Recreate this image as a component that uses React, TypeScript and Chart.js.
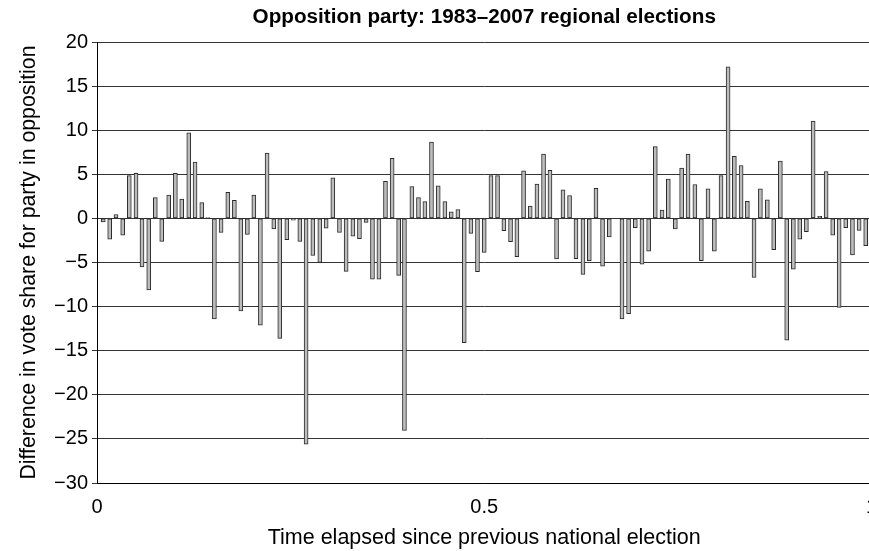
import { useEffect, useRef } from "react";
import { Chart, registerables } from "chart.js";

Chart.register(...registerables);

// Share of the interval between two national elections that had passed
// when each regional election was held.
const elapsed = [
  0.0081, 0.0164, 0.0245, 0.0332, 0.0417, 0.0504, 0.0581, 0.0668, 0.0753, 0.0836,
  0.0926, 0.1012, 0.1094, 0.1185, 0.1266, 0.1353, 0.143, 0.1516, 0.1602, 0.1689,
  0.1774, 0.1857, 0.1942, 0.2025, 0.211, 0.2196, 0.2283, 0.236, 0.2451, 0.2536,
  0.2619, 0.27, 0.2787, 0.2877, 0.2959, 0.3045, 0.3131, 0.3217, 0.3304, 0.3389,
  0.3475, 0.3557, 0.364, 0.3725, 0.3811, 0.3895, 0.397, 0.4066, 0.4151, 0.4234,
  0.4319, 0.4406, 0.4492, 0.4574, 0.466, 0.4742, 0.4828, 0.4913, 0.5, 0.5087,
  0.5172, 0.5254, 0.534, 0.5422, 0.5508, 0.5594, 0.5681, 0.5766, 0.5849, 0.5934,
  0.6017, 0.6102, 0.6185, 0.6275, 0.6357, 0.6443, 0.6528, 0.6615, 0.6779, 0.6864,
  0.6951, 0.7037, 0.7123, 0.7209, 0.7296, 0.7377, 0.7468, 0.7549, 0.7632, 0.772,
  0.7804, 0.789, 0.7972, 0.8058, 0.8149, 0.823, 0.8317, 0.8398, 0.8484, 0.8566,
  0.8656, 0.8738, 0.8824, 0.8906, 0.8992, 0.9074, 0.916, 0.9247, 0.9332, 0.9415,
  0.95, 0.9583, 0.9668, 0.9755, 0.9841, 0.9926,
];

// Change in the opposition party's vote share, in percentage points.
const voteDiff = [
  -0.4, -2.35, 0.45, -1.9, 4.85, 5.1, -5.5, -8.1, 2.35, -2.6,
  2.65, 5.1, 2.2, 9.7, 6.4, 1.8, 0.1, -11.4, -1.6, 2.95,
  2.05, -10.5, -1.8, 2.65, -12.1, 7.4, -1.2, -13.6, -2.4, -0.2,
  -2.6, -25.6, -4.2, -5.0, -1.1, 4.6, -1.6, -6.0, -2.0, -2.3,
  -0.45, -6.9, -6.9, 4.2, 6.8, -6.45, -24.05, 3.6, 2.35, 1.9,
  8.65, 3.7, 1.9, 0.75, 1.0, -14.1, -1.7, -6.05, -3.85, 4.85,
  4.85, -1.4, -2.65, -4.35, 5.4, 1.4, 3.9, 7.3, 5.45, -4.6,
  3.25, 2.6, -4.55, -6.35, -4.8, 3.4, -5.4, -2.1, -11.4, -10.8,
  -1.05, -5.2, -3.7, 8.15, 0.95, 4.45, -1.2, 5.7, 7.3, 3.85,
  -4.8, 3.35, -3.7, 4.85, 17.2, 7.05, 6.0, 1.95, -6.7, 3.35,
  2.1, -3.55, 6.5, -13.8, -5.75, -2.35, -1.5, 11.05, 0.25, 5.3,
  -1.9, -10.1, -1.05, -4.15, -1.35, -3.1,
];

const yMin = -30;
const yMax = 20;
const yStep = 5;
const xMin = 0;
const xMax = 1;
const xStep = 0.5;

const FONT = "'Liberation Sans', Arial, Helvetica, sans-serif";

export default function App() {
  const canvasRef = useRef<HTMLCanvasElement | null>(null);

  useEffect(() => {
    const canvas = canvasRef.current;
    if (!canvas) return;

    const points = elapsed.map((x, i) => ({ x, y: voteDiff[i] }));

    const chart = new Chart(canvas, {
      type: "bar",
      data: {
        datasets: [
          {
            data: points,
            backgroundColor: "#bcbcbc",
            borderColor: "#2a2a2a",
            borderWidth: 1,
            borderSkipped: false,
            barThickness: 4,
          },
        ],
      },
      options: {
        responsive: false,
        animation: false,
        devicePixelRatio: 1,
        layout: { padding: { left: 0, right: 0, top: 0, bottom: 0 } },
        plugins: {
          legend: { display: false },
          tooltip: { enabled: false },
          title: {
            display: true,
            fullSize: false,
            text: "Opposition party: 1983–2007 regional elections",
            color: "#000",
            font: { family: FONT, size: 20.7, weight: "bold" },
            padding: { top: 5, bottom: 12.2 },
          },
        },
        scales: {
          x: {
            type: "linear",
            min: xMin,
            max: xMax,
            offset: false,
            afterFit: (scale: any) => {
              scale.height = 68;
            },
            ticks: {
              stepSize: xStep,
              color: "#000",
              padding: 4,
              font: { family: FONT, size: 20 },
              callback: (v: any) => String(Number(v)),
            },
            grid: { display: false },
            border: { display: true, color: "#000", width: 1 },
            title: {
              display: true,
              text: "Time elapsed since previous national election",
              color: "#000",
              font: { family: FONT, size: 21.5 },
              padding: { top: 0, bottom: 0 },
            },
          },
          y: {
            min: yMin,
            max: yMax,
            afterFit: (scale: any) => {
              scale.width = 97;
            },
            ticks: {
              stepSize: yStep,
              color: "#000",
              padding: 4,
              font: { family: FONT, size: 20 },
              callback: (v: any) => String(v).replace("-", "\u2212"),
            },
            grid: {
              color: "#333",
              lineWidth: 1,
              drawTicks: true,
              tickLength: 5,
            },
            border: { display: true, color: "#000", width: 1 },
            title: {
              display: true,
              text: "Difference in vote share for party in opposition",
              color: "#000",
              font: { family: FONT, size: 21.3 },
              padding: { top: 16, bottom: 0 },
            },
          },
        },
      },
    });

    return () => chart.destroy();
  }, []);

  return (
    <div
      style={{
        position: "fixed",
        left: 0,
        top: 0,
        width: 869,
        height: 551,
        overflow: "hidden",
        background: "#fff",
      }}
    >
      <canvas ref={canvasRef} width={881} height={551} />
    </div>
  );
}
